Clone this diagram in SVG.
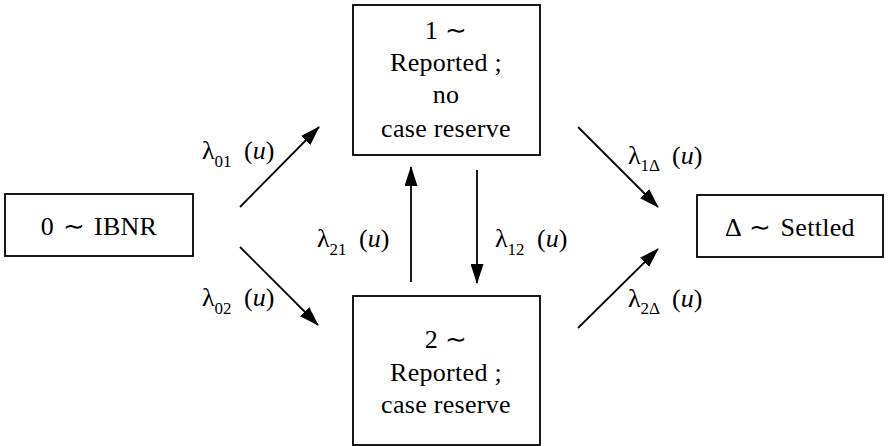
<svg xmlns="http://www.w3.org/2000/svg" width="889" height="446" viewBox="0 0 889 446">
<style>
.box{fill:#fff;stroke:#000;stroke-width:1.8}
.t{font-family:"Liberation Serif","Times New Roman",serif;font-size:26px;fill:#000;text-anchor:middle;letter-spacing:0.3px}
.l{font-family:"Liberation Serif","Times New Roman",serif;font-size:26px;fill:#000}
.s{font-size:17px}
.c{stroke:#000;stroke-width:1.8;fill:none}
</style>
<defs>
<marker id="ah" viewBox="0 0 20 13" refX="19" refY="6.5" markerWidth="20" markerHeight="13" markerUnits="userSpaceOnUse" orient="auto">
<path d="M0,0 L20,6.5 L0,13 Z" fill="#000"/>
</marker>
</defs>
<g id="n0">
<rect class="box" x="5" y="194" width="188" height="62"/>
<text class="t" x="99" y="235" word-spacing="2">0 ∼ IBNR</text>
</g>
<g id="n1">
<rect class="box" x="353" y="5" width="187" height="150"/>
<text class="t" x="446" y="39">1 ∼</text>
<text class="t" x="446" y="71">Reported ;</text>
<text class="t" x="446" y="103">no</text>
<text class="t" x="446" y="137">case reserve</text>
</g>
<g id="n2">
<rect class="box" x="353" y="296" width="187" height="149"/>
<text class="t" x="446" y="348">2 ∼</text>
<text class="t" x="446" y="381">Reported ;</text>
<text class="t" x="446" y="413">case reserve</text>
</g>
<g id="nD">
<rect class="box" x="697" y="195" width="186" height="62"/>
<text class="t" x="790" y="236" word-spacing="2">Δ ∼ Settled</text>
</g>
<g id="connectors">
<line class="c" x1="240" y1="207" x2="319" y2="127" marker-end="url(#ah)"/>
<line class="c" x1="240" y1="247" x2="318" y2="325" marker-end="url(#ah)"/>
<line class="c" x1="411" y1="282" x2="411" y2="167" marker-end="url(#ah)"/>
<line class="c" x1="477" y1="170" x2="477" y2="283" marker-end="url(#ah)"/>
<line class="c" x1="578" y1="127" x2="658" y2="207" marker-end="url(#ah)"/>
<line class="c" x1="578" y1="328" x2="658" y2="249" marker-end="url(#ah)"/>
</g>
<g id="labels">
<text class="l" x="202" y="159">λ<tspan class="s" dy="8">01</tspan><tspan dy="-8" x="244">(</tspan><tspan font-style="italic">u</tspan>)</text>
<text class="l" x="202" y="306">λ<tspan class="s" dy="8">02</tspan><tspan dy="-8" x="244">(</tspan><tspan font-style="italic">u</tspan>)</text>
<text class="l" x="317" y="247">λ<tspan class="s" dy="8">21</tspan><tspan dy="-8" x="359">(</tspan><tspan font-style="italic">u</tspan>)</text>
<text class="l" x="495" y="247">λ<tspan class="s" dy="8">12</tspan><tspan dy="-8" x="537">(</tspan><tspan font-style="italic">u</tspan>)</text>
<text class="l" x="628" y="164">λ<tspan class="s" dy="7">1Δ</tspan><tspan dy="-7" x="672">(</tspan><tspan font-style="italic">u</tspan>)</text>
<text class="l" x="628" y="307">λ<tspan class="s" dy="7">2Δ</tspan><tspan dy="-7" x="672">(</tspan><tspan font-style="italic">u</tspan>)</text>
</g>
</svg>
